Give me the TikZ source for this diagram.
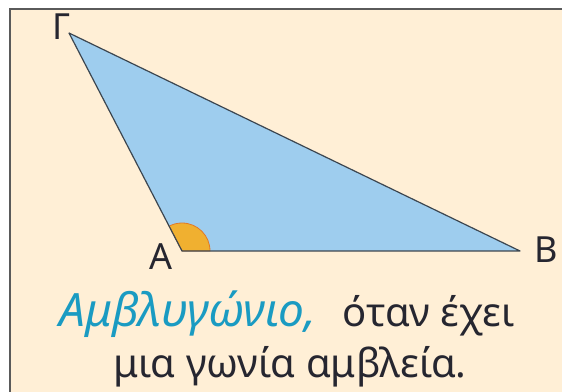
\documentclass[tikz,border=0pt]{standalone}
\usepackage{fontspec}
\setmainfont{Noto Sans}
\usetikzlibrary{positioning}
\definecolor{cpaper}{HTML}{FFEFD6}
\definecolor{cframe}{HTML}{5A5A5A}
\definecolor{csky}{HTML}{9ECDEE}
\definecolor{cedge}{HTML}{3C4650}
\definecolor{cangle}{HTML}{F0B030}
\definecolor{canglerim}{HTML}{E07A28}
\definecolor{cteal}{HTML}{1A9BC2}
\definecolor{cink}{HTML}{262630}
\tikzset{
  every picture/.style={x=1pt, y=1pt},
  vertex/.style={font=\fontsize{36}{38}\selectfont, text=cink, inner sep=0pt},
  caption/.style={font=\fontsize{40}{48}\selectfont, text=cink, inner sep=0pt, anchor=base},
}
\begin{document}
\begin{tikzpicture}
  \useasboundingbox (0,0) rectangle (562,391);
  \begin{scope}
    \clip (0,0) rectangle (562,391);
    \draw[cframe, fill=cpaper, line width=2.4pt] (10,-10) rectangle (580,382);
  \end{scope}
  % corners of the triangle
  \coordinate (A) at (182,140);
  \coordinate (B) at (520,140);
  \coordinate (G) at (69,358);
  \fill[csky] (A) -- (B) -- (G) -- cycle;
  \draw[canglerim, fill=cangle, line width=0.8pt] (A) -- ++(28,0) arc[start angle=0, end angle=117.4, radius=28] -- cycle;
  \draw[cedge, line width=1.2pt, line join=round] (A) -- (B) -- (G) -- cycle;
  \node[vertex] (a) at (161,134.5) {Α};
  \node[vertex] (b) at (546,141) {Β};
  \node[vertex] (g) at (61,364.5) {Γ};
  % caption, two lines
  \node[caption] (line1) at (287,64) {{\color{cteal}\fontsize{46}{48}\selectfont\itshape Αμβλυγώνιο,}\hspace{26pt}όταν έχει};
  \node[caption] (line2) at (290,14) {μια γωνία αμβλεία.};
\end{tikzpicture}
\end{document}
